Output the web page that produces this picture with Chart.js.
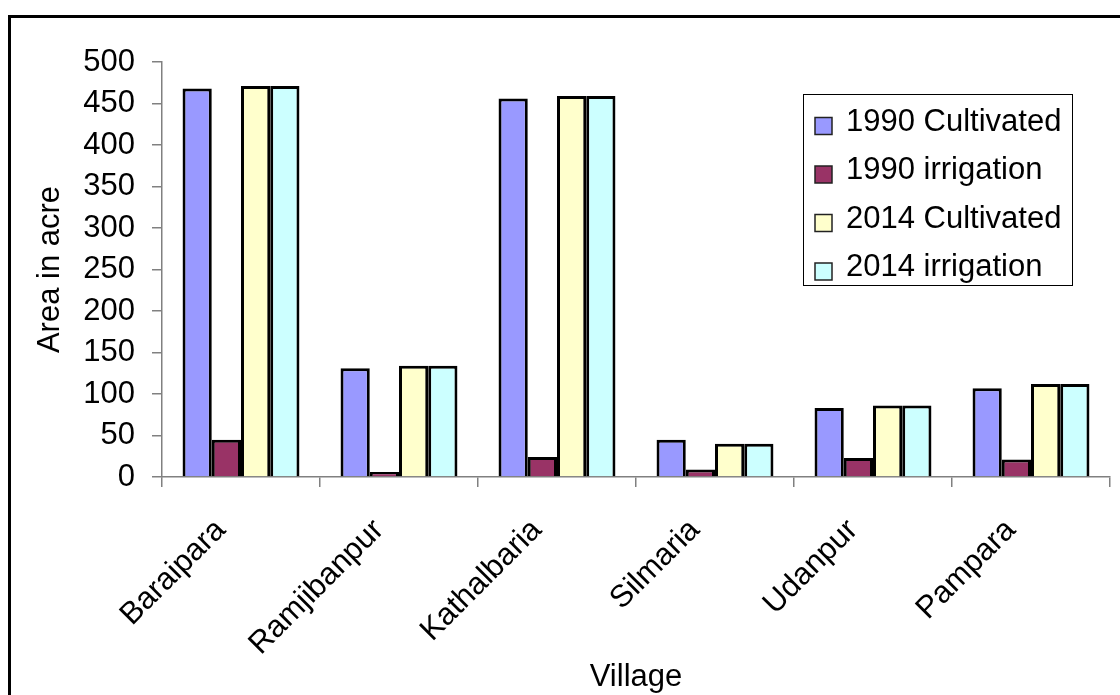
<!DOCTYPE html>
<html>
<head>
<meta charset="utf-8">
<script src="https://cdn.jsdelivr.net/npm/chart.js@4/dist/chart.umd.min.js"></script>
<style>
    html, body { margin: 0; padding: 0; background: #fff; overflow: hidden; }
    #wrap { position: relative; width: 1120px; height: 695px; }
    #frame { position: absolute; left: 8px; top: 15px; width: 1140px; height: 720px; border: 3px solid #000; box-sizing: border-box; }
    canvas { position: absolute; left: 0; top: 0; }
</style>
</head>
<body>
<div id="wrap">
    <div id="frame"></div>
    <canvas id="areaChart" width="1120" height="695"></canvas>
</div>
<script>
//Cultivated / irrigated area by village

const villages = ["Baraipara", "Ramjibanpur", "Kathalbaria", "Silmaria", "Udanpur", "Pampara"];
const cultivated1990 = [468, 131, 456, 45, 83, 107];
const irrigation1990 = [45, 6, 24, 9, 23, 21];
const cultivated2014 = [471, 134, 459, 40, 86, 112];
const irrigation2014 = [471, 134, 459, 40, 86, 112];
const seriesNames = ["1990 Cultivated", "1990 irrigation", "2014 Cultivated", "2014 irrigation"];
const yTicks = [0, 50, 100, 150, 200, 250, 300, 350, 400, 450, 500];

const theme = {
    blue: "#9999FF",
    plum: "#993366",
    cream: "#FFFFCC",
    aqua: "#CCFFFF",
    axis: "#808080",
    font: "'Liberation Sans', Arial, sans-serif"
};

Chart.defaults.font.family = theme.font;
Chart.defaults.color = "#000";

// legend drawn as a boxed list inside the plot, like the original
const boxLegend = {
    id: "boxLegend",
    afterDraw(chart) {
        const c = chart.ctx;
        c.save();
        c.strokeStyle = "#000";
        c.lineWidth = 1;
        c.strokeRect(803.5, 94.5, 269, 191);
        c.font = "31px " + theme.font;
        c.textBaseline = "middle";
        chart.data.datasets.forEach((ds, i) => {
            const y = 126 + i * 48.5;
            c.fillStyle = ds.backgroundColor;
            c.fillRect(815, y - 8.5, 17, 17);
            c.lineWidth = 1.5;
            c.strokeStyle = "#222";
            c.strokeRect(815, y - 8.5, 17, 17);
            c.fillStyle = "#000";
            c.fillText(ds.label, 846, y - 4);
        });
        c.restore();
    }
};

const seriesData = [cultivated1990, irrigation1990, cultivated2014, irrigation2014];
const seriesColors = [theme.blue, theme.plum, theme.cream, theme.aqua];

const ctx = document.getElementById("areaChart");

new Chart(ctx, {
    type: "bar",
    data: {
        labels: villages,
        datasets: seriesNames.map((name, i) => ({
            label: name,
            data: seriesData[i],
            backgroundColor: seriesColors[i],
            borderColor: "#000",
            borderWidth: 3,
            categoryPercentage: 0.74,
            barPercentage: 1
        }))
    },
    options: {
        responsive: false,
        animation: false,
        devicePixelRatio: 1,
        layout: {
            padding: { left: 10, right: 10, top: 62, bottom: 0 }
        },
        plugins: {
            legend: { display: false },
            tooltip: { enabled: false }
        },
        scales: {
            x: {
                afterFit: s => { s.height = 218; },
                grid: { drawOnChartArea: false, drawTicks: true, tickLength: 10, color: theme.axis, lineWidth: 1.5 },
                border: { display: true, color: theme.axis, width: 1.5 },
                ticks: {
                    autoSkip: false,
                    minRotation: 45,
                    maxRotation: 45,
                    padding: 25,
                    labelOffset: -20,
                    color: "#000",
                    font: { size: 31 }
                },
                title: {
                    display: true,
                    text: "Village",
                    color: "#000",
                    font: { size: 31, lineHeight: 1.1 },
                    padding: { top: 0, bottom: 0 }
                }
            },
            y: {
                min: 0,
                max: 500,
                afterFit: s => { s.width = 152; },
                afterBuildTicks: s => { s.ticks = yTicks.map(v => ({ value: v })); },
                grid: { drawOnChartArea: false, drawTicks: true, tickLength: 10, color: theme.axis, lineWidth: 1.5 },
                border: { display: true, color: theme.axis, width: 1.5 },
                ticks: {
                    padding: 17,
                    color: "#000",
                    font: { size: 31 }
                },
                title: {
                    display: true,
                    text: "Area in acre",
                    color: "#000",
                    font: { size: 31 },
                    padding: { top: 22, bottom: 0 }
                }
            }
        }
    },
    plugins: [boxLegend]
});
</script>
</body>
</html>
